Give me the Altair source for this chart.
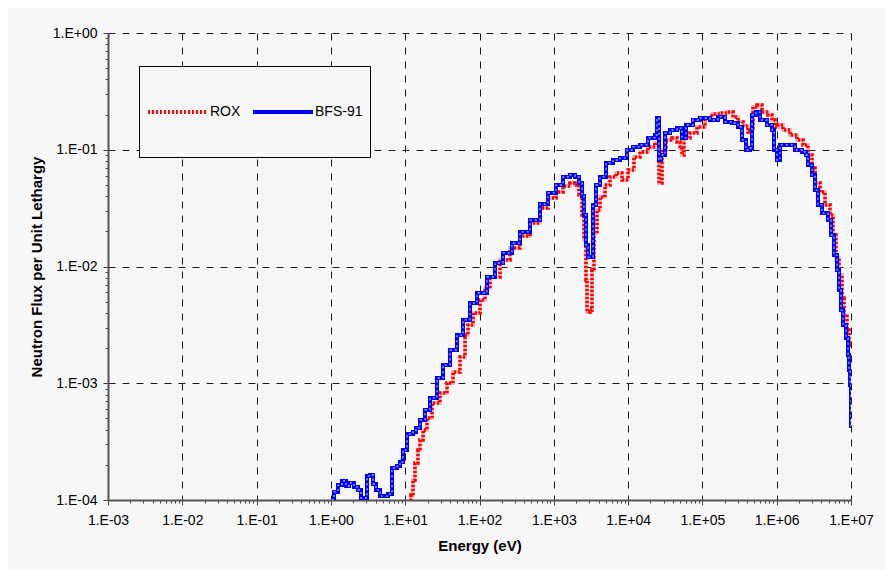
import altair as alt
import pandas as pd

SERIES = ["ROX", "BFS-91"]
COLORS = ["#ff0000", "#0000ff"]

# log10(Energy, eV) and log10(flux per unit lethargy)
ROX_LOG_E = [1.065, 1.078, 1.105, 1.132, 1.172, 1.199, 1.240, 1.293, 1.361, 1.468,
             1.563, 1.643, 1.738, 1.805, 1.845, 1.913, 2.007, 2.074, 2.141, 2.276,
             2.411, 2.545, 2.680, 2.814, 2.922, 3.030, 3.124, 3.218, 3.285, 3.339,
             3.380, 3.406, 3.433, 3.447, 3.487, 3.514, 3.541, 3.581, 3.622, 3.689,
             3.756, 3.837, 3.918, 3.999, 4.079, 4.160, 4.268, 4.362, 4.389, 4.416,
             4.456, 4.510, 4.591, 4.658, 4.699, 4.725, 4.752, 4.833, 4.927, 5.035,
             5.129, 5.237, 5.331, 5.412, 5.479, 5.546, 5.614, 5.654, 5.681, 5.735,
             5.802, 5.883, 5.937, 5.977, 6.018, 6.085, 6.179, 6.273, 6.354, 6.421,
             6.475, 6.516, 6.583, 6.650, 6.717, 6.758, 6.798, 6.839, 6.879, 6.906,
             6.946, 6.973, 7.000]
ROX_LOG_FLUX = [-4.000, -3.957, -3.829, -3.683, -3.572, -3.486, -3.400, -3.298, -3.169, -3.084,
                -2.998, -2.904, -2.775, -2.587, -2.501, -2.398, -2.287, -2.184, -2.090, -1.944,
                -1.842, -1.739, -1.627, -1.499, -1.413, -1.362, -1.310, -1.285, -1.302, -1.388,
                -1.559, -1.773, -2.116, -2.390, -2.373, -2.030, -1.713, -1.516, -1.405, -1.302,
                -1.233, -1.199, -1.259, -1.173, -1.062, -1.019, -0.976, -0.942, -0.959, -1.285,
                -1.002, -0.916, -0.899, -0.934, -0.985, -1.045, -0.899, -0.857, -0.805, -0.728,
                -0.694, -0.685, -0.677, -0.719, -0.762, -0.797, -0.848, -0.814, -0.634, -0.617,
                -0.677, -0.702, -0.745, -0.805, -0.788, -0.831, -0.874, -0.916, -0.959, -1.045,
                -1.156, -1.285, -1.362, -1.473, -1.559, -1.730, -1.927, -2.073, -2.270, -2.415,
                -2.544, -2.672, -2.629]

BFS_LOG_E = [0.015, 0.042, 0.096, 0.149, 0.203, 0.244, 0.311, 0.365, 0.405, 0.459,
             0.486, 0.526, 0.567, 0.607, 0.661, 0.768, 0.822, 0.890, 0.930, 0.970,
             1.024, 1.105, 1.145, 1.199, 1.266, 1.334, 1.428, 1.509, 1.603, 1.697,
             1.778, 1.872, 1.966, 2.101, 2.209, 2.316, 2.437, 2.545, 2.680, 2.814,
             2.922, 3.030, 3.124, 3.218, 3.285, 3.339, 3.380, 3.406, 3.433, 3.460,
             3.501, 3.528, 3.568, 3.622, 3.703, 3.797, 3.891, 3.985, 4.066, 4.160,
             4.268, 4.362, 4.389, 4.416, 4.443, 4.497, 4.564, 4.658, 4.725, 4.779,
             4.874, 4.968, 5.102, 5.210, 5.304, 5.398, 5.479, 5.533, 5.587, 5.641,
             5.668, 5.721, 5.775, 5.869, 5.937, 5.964, 6.004, 6.044, 6.152, 6.246,
             6.341, 6.394, 6.421, 6.475, 6.516, 6.556, 6.610, 6.690, 6.731, 6.771,
             6.812, 6.839, 6.865, 6.892, 6.933, 6.960, 6.973, 6.987, 7.000, 7.000]
BFS_LOG_FLUX = [-4.000, -3.931, -3.872, -3.837, -3.880, -3.854, -3.889, -3.914, -3.983, -3.983,
                -3.794, -3.786, -3.863, -3.914, -3.966, -3.949, -3.726, -3.709, -3.675, -3.572,
                -3.435, -3.418, -3.383, -3.315, -3.229, -3.126, -2.955, -2.844, -2.715, -2.587,
                -2.458, -2.313, -2.227, -2.090, -1.970, -1.884, -1.799, -1.704, -1.602, -1.465,
                -1.370, -1.302, -1.233, -1.216, -1.233, -1.285, -1.396, -1.559, -1.816, -1.919,
                -1.919, -1.473, -1.302, -1.233, -1.113, -1.088, -1.071, -1.002, -0.976, -0.959,
                -0.899, -0.874, -0.728, -1.088, -1.045, -0.857, -0.831, -0.814, -0.899, -0.788,
                -0.745, -0.728, -0.745, -0.719, -0.762, -0.771, -0.805, -0.916, -1.002, -0.985,
                -0.702, -0.677, -0.745, -0.788, -0.831, -1.002, -1.088, -0.959, -0.959, -1.002,
                -1.019, -1.045, -1.131, -1.216, -1.345, -1.473, -1.542, -1.602, -1.730, -1.902,
                -2.030, -2.201, -2.373, -2.501, -2.612, -2.758, -2.887, -3.015, -3.101, -3.383]

X_DECADES = list(range(-3, 8))   # 1.E-03 ... 1.E+07
Y_DECADES = list(range(-4, 1))   # 1.E-04 ... 1.E+00
MINOR_STEPS = [1, 2, 3, 4, 5, 6, 7, 8, 9]

X_TICKS = [m * 10.0 ** k for k in X_DECADES[:-1] for m in MINOR_STEPS] + [10.0 ** X_DECADES[-1]]
Y_TICKS = [m * 10.0 ** k for k in Y_DECADES[:-1] for m in MINOR_STEPS] + [10.0 ** Y_DECADES[-1]]

rows = []
for name, le, lf in [("ROX", ROX_LOG_E, ROX_LOG_FLUX), ("BFS-91", BFS_LOG_E, BFS_LOG_FLUX)]:
    for i, (a, b) in enumerate(zip(le, lf)):
        rows.append({"series": name, "idx": i, "energy": 10 ** a, "flux": 10 ** b})
df = pd.DataFrame(rows)

FONT = "Liberation Sans"
L = "log(datum.value)/LN10"
MAJOR = f"abs({L} - round({L})) < 0.001"
LABEL = (f"{MAJOR} ? ('1.E' + (round({L}) < 0 ? '-' : '+') + "
         f"(abs(round({L})) < 10 ? '0' : '') + abs(round({L}))) : ''")


def make_axis(values, title_padding, label_padding):
    return alt.Axis(
        values=values,
        labelExpr=LABEL,
        labelOverlap=False,
        labelFlush=False,
        grid=True,
        gridColor="#1a1a1a",
        gridDash=[7, 7],
        gridWidth=1,
        gridOpacity={"condition": {"test": MAJOR, "value": 1}, "value": 0},
        tickSize={"condition": {"test": MAJOR, "value": 5}, "value": 3},
        tickColor="#444444",
        tickWidth=1,
        domainColor="#555555",
        domainWidth=2,
        labelFont=FONT,
        labelFontSize=14,
        labelColor="#000000",
        labelPadding=label_padding,
        titleFont=FONT,
        titleFontSize=15,
        titleFontWeight="bold",
        titleColor="#000000",
        titlePadding=title_padding,
    )


x_enc = alt.X("energy:Q", title="Energy (eV)",
              scale=alt.Scale(type="log", domain=[1e-3, 1e7]),
              axis=make_axis(X_TICKS, 11, 8))
y_enc = alt.Y("flux:Q", title="Neutron Flux per Unit Lethargy",
              scale=alt.Scale(type="log", domain=[1e-4, 1]),
              axis=make_axis(Y_TICKS, 8, 6))
order = alt.Order("idx:Q")
color = alt.Color("series:N", title=" ",
                  scale=alt.Scale(domain=SERIES, range=COLORS))
dash = alt.StrokeDash("series:N", title=" ",
                      scale=alt.Scale(domain=SERIES, range=[[2, 2], [1, 0]]))

base = alt.Chart(df)
rox = base.transform_filter(alt.datum.series == "ROX")
bfs = base.transform_filter(alt.datum.series == "BFS-91")

rox_under = rox.mark_line(interpolate="step-after", clip=True, color="#f3a3a3",
                          strokeWidth=3.5).encode(x=x_enc, y=y_enc, order=order)
rox_main = rox.mark_line(interpolate="step-after", clip=True, strokeWidth=3.5).encode(
    x=x_enc, y=y_enc, order=order, color=color, strokeDash=dash)
bfs_main = bfs.mark_line(interpolate="step-after", clip=True, strokeWidth=4).encode(
    x=x_enc, y=y_enc, order=order, color=color, strokeDash=dash)
bfs_over = bfs.mark_line(interpolate="step-after", clip=True, color="#a9bcff",
                         strokeWidth=1.3, strokeDash=[2, 3]).encode(x=x_enc, y=y_enc, order=order)

chart = alt.layer(rox_under, rox_main, bfs_main, bfs_over).properties(
    width=743,
    height=467,
    background="#f7f7f7",
    padding={"left": 100, "top": 25, "right": 34, "bottom": 70},
    autosize=alt.AutoSizeParams(type="none"),
).configure_view(
    stroke=None,
    fill="#f7f7f7",
).configure_legend(
    orient="none",
    legendX=31,
    legendY=33,
    direction="horizontal",
    symbolType="M-1,0H1M0,1",
    symbolSize=3600,
    symbolStrokeWidth=4,
    strokeColor="#000000",
    fillColor="#f7f7f7",
    padding=7,
    titleFontSize=6,
    titlePadding=1,
    labelFont=FONT,
    labelFontSize=14,
    labelColor="#000000",
    labelOffset=0,
    columnPadding=4,
)

chart.save("out.html", embed_options={"renderer": "svg", "actions": False})
